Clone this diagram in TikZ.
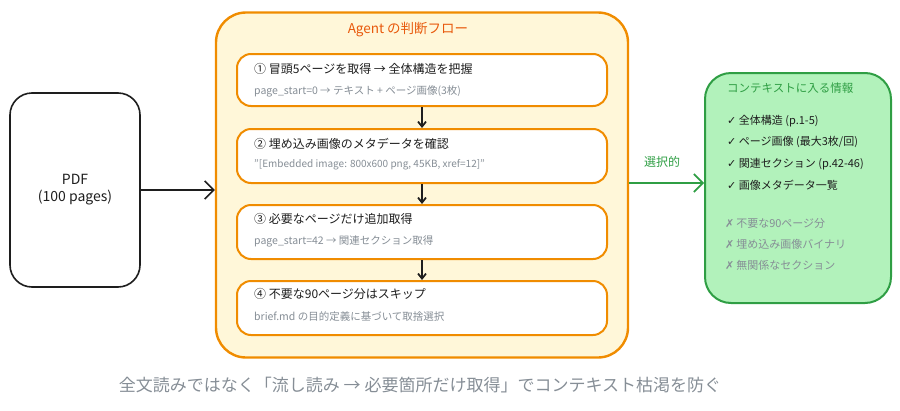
\documentclass[tikz,border=0pt]{standalone}
\usepackage{fontspec}
\setmainfont{Noto Sans CJK JP}
\newfontfamily\symfont{DejaVu Sans}
\usetikzlibrary{arrows.meta}
\definecolor{orangeS}{HTML}{F08C00}
\definecolor{orangeT}{HTML}{E8590C}
\definecolor{yellowF}{HTML}{FFF7D9}
\definecolor{greenS}{HTML}{2F9E44}
\definecolor{greenF}{HTML}{B2F2BB}
\definecolor{greyT}{HTML}{868E96}
\definecolor{inkT}{HTML}{1E1E1E}
\tikzset{
  pdfbox/.style={draw=inkT, line width=1.6pt, rounded corners=22pt, fill=white},
  flowbox/.style={draw=orangeS, line width=2.4pt, rounded corners=30pt, fill=yellowF},
  stepbox/.style={draw=orangeS, line width=2pt, rounded corners=14pt, fill=white},
  ctxbox/.style={draw=greenS, line width=2pt, rounded corners=26pt, fill=greenF},
  steptitle/.style={anchor=west, inner sep=0pt, font=\fontsize{12}{14}\selectfont, text=inkT},
  stepsub/.style={anchor=west, inner sep=0pt, font=\fontsize{10.5}{12}\selectfont, text=greyT},
  item/.style={anchor=west, inner sep=0pt, font=\fontsize{11}{13}\selectfont, text=inkT},
  xitem/.style={anchor=west, inner sep=0pt, font=\fontsize{11}{13}\selectfont, text=greyT},
  bigarrow/.style={line width=1.6pt, -{Straight Barb[length=9pt,width=18pt,line width=1.6pt]}},
  smallarrow/.style={line width=1.8pt, -{Straight Barb[length=5pt,width=8pt,line width=1.8pt]}},
}
\begin{document}
\begin{tikzpicture}[x=1pt,y=-1pt]
\useasboundingbox (0,0) rectangle (900,410);
% PDF
\node[pdfbox, minimum width=130pt, minimum height=194pt, align=center, font=\fontsize{14}{17}\selectfont, text=inkT] (pdf) at (75,190) {PDF\\(100 pages)};
% flow container
\node[flowbox, minimum width=412pt, minimum height=345pt] (flow) at (422,185) {};
\node[inner sep=0pt, text=orangeT, font=\fontsize{13.5}{16}\selectfont] (flowtitle) at (408,30) {Agent の判断フロー};
% steps
\node[stepbox, minimum width=370pt, minimum height=52pt] (s1) at (422,80) {};
\node[stepbox, minimum width=370pt, minimum height=54pt] (s2) at (422,156) {};
\node[stepbox, minimum width=370pt, minimum height=54pt] (s3) at (422,232) {};
\node[stepbox, minimum width=370pt, minimum height=54pt] (s4) at (422,308) {};
\node[steptitle] (t1) at (254,69) {① 冒頭5ページを取得 → 全体構造を把握};
\node[stepsub] (u1) at (254,91) {page\_start=0 → テキスト + ページ画像(3枚)};
\node[steptitle] (t2) at (254,144) {② 埋め込み画像のメタデータを確認};
\node[stepsub, font=\fontsize{10}{12}\selectfont] (u2) at (254,165) {"[Embedded image: 800x600 png, 45KB, xref=12]"};
\node[steptitle] (t3) at (254,219) {③ 必要なページだけ追加取得};
\node[stepsub] (u3) at (254,241) {page\_start=42 → 関連セクション取得};
\node[steptitle] (t4) at (254,294) {④ 不要な90ページ分はスキップ};
\node[stepsub] (u4) at (254,317) {brief.md の目的定義に基づいて取捨選択};
\draw[smallarrow, draw=inkT] (s1.south) -- (s2.north);
\draw[smallarrow, draw=inkT] (s2.south) -- (s3.north);
\draw[smallarrow, draw=inkT] (s3.south) -- (s4.north);
% PDF -> flow
\draw[bigarrow, draw=inkT] (pdf.east) -- (flow.west |- pdf.east);
% context box
\node[ctxbox, minimum width=186pt, minimum height=230pt] (ctx) at (798,188) {};
\node[anchor=west, inner sep=0pt, text=greenS, font=\fontsize{11.5}{14}\selectfont] (ctxtitle) at (727,88) {コンテキストに入る情報};
\node[item] (c1) at (727,121) {{\symfont ✓} 全体構造 (p.1-5)};
\node[item] (c2) at (727,142) {{\symfont ✓} ページ画像 (最大3枚/回)};
\node[item] (c3) at (727,164) {{\symfont ✓} 関連セクション (p.42-46)};
\node[item] (c4) at (727,185) {{\symfont ✓} 画像メタデータ一覧};
\node[xitem] (x1) at (725,223) {{\symfont ✗}\,不要な90ページ分};
\node[xitem] (x2) at (725,244) {{\symfont ✗}\,埋め込み画像バイナリ};
\node[xitem] (x3) at (725,265) {{\symfont ✗}\,無関係なセクション};
% flow -> ctx
\coordinate (fa) at (flow.east |- 0,183);
\draw[bigarrow, draw=greenS] (fa) -- (ctx.west |- fa);
\node[inner sep=0pt, text=greenS, font=\fontsize{12}{14}\selectfont] (sel) at (662,162) {選択的};
% caption
\node[inner sep=0pt, text=greyT, font=\fontsize{17}{20}\selectfont] (cap) at (420,385) {全文読みではなく「流し読み → 必要箇所だけ取得」でコンテキスト枯渇を防ぐ};
\end{tikzpicture}
\end{document}
